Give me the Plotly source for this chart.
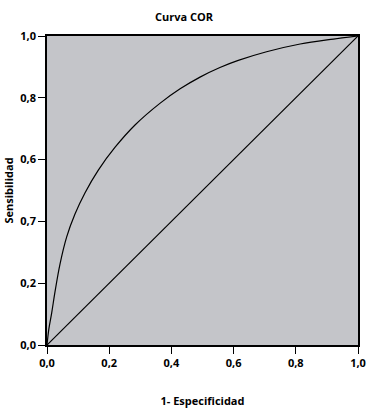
import plotly.graph_objects as go

fpr = [0.0, 0.0060, 0.0151, 0.0257, 0.0418, 0.0633, 0.090, 0.122, 0.165, 0.219, 0.283, 0.363, 0.428, 0.492, 0.556, 0.615, 0.706, 0.814, 0.921, 1.0]
tpr = [0.0, 0.052, 0.104, 0.172, 0.262, 0.350, 0.424, 0.492, 0.566, 0.640, 0.712, 0.782, 0.829, 0.867, 0.898, 0.921, 0.949, 0.974, 0.990, 1.0]
diag_x = [0.0, 1.0]
diag_y = [0.0, 1.0]
tick_vals = [0.0, 0.2, 0.4, 0.6, 0.8, 1.0]
x_tick_labels = ["0,0", "0,2", "0,4", "0,6", "0,8", "1,0"]
y_tick_labels = ["0,0", "0,2", "0,7", "0,6", "0,8", "1,0"]

FONT = "Open Sans"
fig = go.Figure()
fig.add_trace(go.Scatter(x=fpr, y=tpr, mode="lines",
                         line=dict(color="black", width=1.2, shape="spline", smoothing=1.0),
                         hoverinfo="skip", showlegend=False))
fig.add_trace(go.Scatter(x=diag_x, y=diag_y, mode="lines",
                         line=dict(color="black", width=1.2),
                         hoverinfo="skip", showlegend=False))

axis_common = dict(range=[0, 1], tickvals=tick_vals, ticks="outside", ticklen=7,
                   tickcolor="black", tickwidth=1.2, showgrid=False, zeroline=False,
                   showline=True, linecolor="black", linewidth=1.5, mirror=True,
                   automargin=False, ticklabeloverflow="allow",
                   tickfont=dict(family=FONT, size=11, color="black", weight="bold"))

fig.update_layout(
    width=368, height=408,
    margin=dict(l=47, r=10, t=36, b=63),
    paper_bgcolor="white", plot_bgcolor="#c4c5c9",
    title=dict(text="Curva COR", x=0.5, xanchor="center", y=0.958, yanchor="middle",
               automargin=False,
               font=dict(family=FONT, size=11, color="black", weight="bold")),
    xaxis=dict(ticktext=x_tick_labels, title=dict(text="1- Especificidad", standoff=28,
               font=dict(family=FONT, size=11, color="black", weight="bold")), **axis_common),
    yaxis=dict(ticktext=y_tick_labels, title=dict(text="Sensibilidad", standoff=4,
               font=dict(family=FONT, size=11, color="black", weight="bold")), **axis_common),
)
fig.write_html("out.html", config={"displayModeBar": False},
               post_script="document.body.style.margin='0';document.body.style.overflow='hidden';")
